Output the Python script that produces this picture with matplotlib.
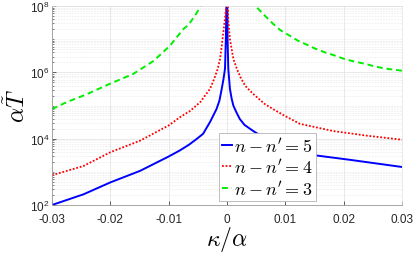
import numpy as np
import matplotlib
matplotlib.use("Agg")
import matplotlib.pyplot as plt
from matplotlib.ticker import FixedLocator, LogLocator, NullFormatter
from matplotlib.font_manager import FontProperties

plt.rcParams['font.family'] = 'Liberation Sans'
plt.rcParams['mathtext.fontset'] = 'custom'
plt.rcParams['mathtext.rm'] = 'Liberation Sans'
plt.rcParams['mathtext.it'] = 'Liberation Sans:italic'

# ---- data ----
x5 = [-0.03, -0.0246, -0.020, -0.0149, -0.010, -0.0081, -0.0065, -0.0052, -0.0041,
      -0.0029, -0.0018, -0.0013, -0.0009, -0.0006, -0.00034, -0.0002, 0.0, 0.0001,
      0.00022, 0.0005, 0.0008, 0.0011, 0.0016, 0.0022, 0.003, 0.0045, 0.008,
      0.011, 0.0154, 0.0211, 0.03]
y5 = [1.0e2, 2.1e2, 4.8e2, 1.07e3, 2.9e3, 4.4e3, 6.6e3, 9.8e3, 1.4e4,
      3.2e4, 7.8e4, 1.4e5, 3.2e5, 6.3e5, 1.3e6, 1.0e7, 1e9, 1.0e7,
      1.3e6, 3.2e5, 1.6e5, 9.8e4, 6.3e4, 3.9e4, 2.6e4, 1.7e4, 7.0e3,
      4.5e3, 3.1e3, 2.3e3, 1.4e3]

x4 = [-0.03, -0.0246, -0.020, -0.0149, -0.010, -0.0081, -0.0063, -0.0046, -0.0029,
      -0.0022, -0.0016, -0.0012, -0.0009, -0.00063, -0.0004, -0.00017, 0.0, 0.0002,
      0.0005, 0.0008, 0.0011, 0.0017, 0.0024, 0.0031, 0.0040, 0.0048, 0.0065,
      0.0079, 0.0097, 0.0125, 0.0182, 0.0240, 0.03]
y4 = [7.9e2, 1.5e3, 3.9e3, 8.7e3, 2.5e4, 4.4e4, 6.9e4, 1.26e5, 3.2e5,
      6.3e5, 1.26e6, 2.5e6, 6.3e6, 1.6e7, 3.5e7, 8.1e7, 1e9, 4.1e7,
      1.0e7, 5.0e6, 2.5e6, 1.26e6, 6.6e5, 4.0e5, 2.7e5, 2.0e5, 1.1e5,
      7.8e4, 5.1e4, 2.8e4, 1.7e4, 1.23e4, 9.3e3]

x3 = [-0.03, -0.0275, -0.0240, -0.0201, -0.0161, -0.0126, -0.0098, -0.0075, -0.0066,
      -0.0055, -0.0046, -0.0040, 0.0043, 0.0051, 0.0065, 0.0079, 0.0091, 0.0105,
      0.0122, 0.0137, 0.0151, 0.0168, 0.0185, 0.0202, 0.0219, 0.0237, 0.0254,
      0.0271, 0.03]
y3 = [7.8e4, 1.26e5, 2.2e5, 4.5e5, 8.9e5, 2.2e6, 6.3e6, 2.0e7, 2.7e7,
      5.1e7, 9.1e7, 2e8, 2e8, 9.1e7, 5.1e7, 2.9e7, 1.9e7, 1.35e7,
      8.9e6, 6.8e6, 5.2e6, 4.0e6, 3.2e6, 2.5e6, 2.1e6, 1.8e6, 1.5e6,
      1.3e6, 1.12e6]

xticks = [-0.03, -0.02, -0.01, 0, 0.01, 0.02, 0.03]
xticklabels = ['-0.03', '-0.02', '-0.01', '0', '0.01', '0.02', '0.03']
yticks = [1e2, 1e4, 1e6, 1e8]
yticklabels = ['$10^{2}$', '$10^{4}$', '$10^{6}$', '$10^{8}$']
labels = [r"$n-n'=5$", r"$n-n'=4$", r"$n-n'=3$"]

# ---- figure ----
fig = plt.figure(figsize=(4.15, 2.55), dpi=100)
ax = fig.add_axes([52/415, 49/255, 350/415, 199/255])

ax.plot(x5, y5, color='#0000ff', lw=1.4, label=labels[0])
ax.plot(x4, y4, color='#ff0000', lw=1.3, linestyle=(0, (1, 1)), label=labels[1])
ax.plot(x3, y3, color='#00ee00', lw=1.4, linestyle=(0, (3, 2)), label=labels[2])

ax.set_yscale('log')
ax.set_xlim(-0.03, 0.03)
ax.set_ylim(1e2, 1e8)

ax.set_xticks(xticks)
ax.set_xticklabels(xticklabels, fontsize=8.5)
ax.yaxis.set_major_locator(FixedLocator(yticks))
ax.set_yticklabels(yticklabels, fontsize=8.5)
ax.yaxis.set_minor_locator(LogLocator(base=10, subs=np.arange(1, 10), numticks=20))
ax.yaxis.set_minor_formatter(NullFormatter())

ax.tick_params(which='both', direction='in', top=False, right=False, colors='0.15')
ax.tick_params(which='major', length=3, width=0.5)
ax.tick_params(axis='x', which='major', pad=6)
ax.tick_params(axis='y', which='major', pad=2)
ax.tick_params(which='minor', length=1.5, width=0.4)

ax.grid(True, which='major', color='0.88', lw=0.5)
ax.grid(True, which='minor', axis='y', color='0.9', lw=0.4, linestyle=(0, (3, 2)))
ax.set_axisbelow(True)

for s in ['left', 'bottom']:
    ax.spines[s].set_color('0.6')
    ax.spines[s].set_linewidth(0.6)
for s in ['top', 'right']:
    ax.spines[s].set_color('0.88')
    ax.spines[s].set_linewidth(0.5)

ax.set_xlabel(r'$\kappa/\alpha$', fontsize=17, math_fontfamily='cm', labelpad=-1)
ax.set_ylabel(r'$\alpha\tilde{T}$', fontsize=17, math_fontfamily='cm', labelpad=0)

leg = ax.legend(loc='lower left', bbox_to_anchor=(0.477, 0.02), borderaxespad=0,
                prop=FontProperties(size=13, math_fontfamily='cm'),
                handlelength=0.6, handletextpad=0.1, labelspacing=0.15,
                borderpad=0.15, fancybox=False, framealpha=1, edgecolor='0.7')
leg.get_frame().set_linewidth(0.6)

fig.savefig('out.png', dpi=100)
